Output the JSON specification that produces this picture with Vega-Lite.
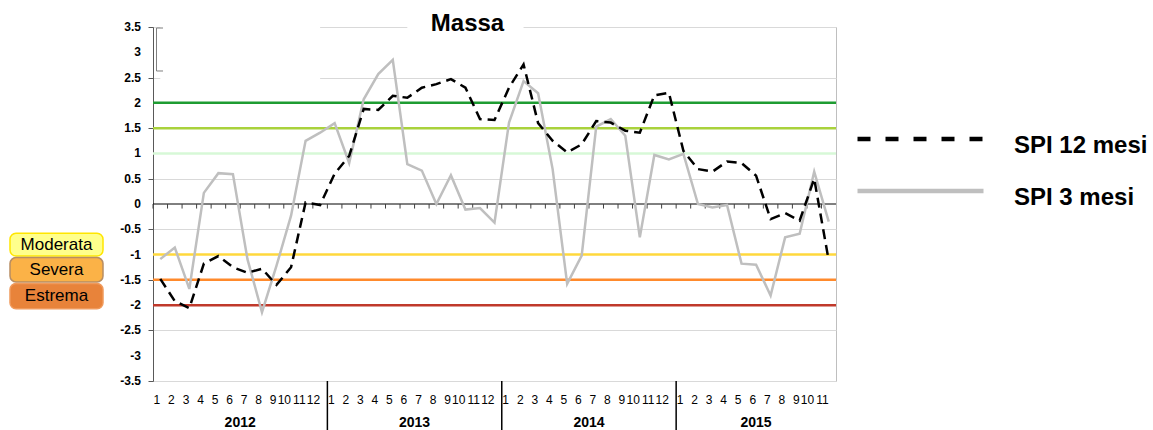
{
  "$schema": "https://vega.github.io/schema/vega-lite/v6.json",
  "padding": {"left": 9, "top": 11, "right": 0, "bottom": 0},
  "spacing": 50,
  "bounds": "flush",
  "config": {
    "font": "Liberation Sans",
    "view": {"stroke": null}
  },
  "resolve": {"scale": {"fill": "independent", "stroke": "independent", "color": "independent"}},
  "hconcat": [
    {
      "width": 93,
      "height": 354,
      "data": {"values": [
        {"classe": "Moderata", "sup": -0.58, "inf": -1.03, "centro": -0.81},
        {"classe": "Severa", "sup": -1.06, "inf": -1.54, "centro": -1.3},
        {"classe": "Estrema", "sup": -1.57, "inf": -2.07, "centro": -1.82}
      ]},
      "layer": [
        {
          "mark": {"type": "rect", "cornerRadius": 6, "strokeWidth": 1.5},
          "encoding": {
            "x": {"datum": 0, "type": "quantitative", "scale": {"domain": [0, 1]}, "axis": null},
            "x2": {"datum": 1},
            "y": {"field": "sup", "type": "quantitative", "scale": {"domain": [-3.5, 3.5], "nice": false, "zero": false}, "axis": null},
            "y2": {"field": "inf"},
            "fill": {"field": "classe", "type": "nominal", "scale": {"domain": ["Moderata", "Severa", "Estrema"], "range": ["#ffff8c", "#fbb247", "#e8833a"]}, "legend": null},
            "stroke": {"field": "classe", "type": "nominal", "scale": {"domain": ["Moderata", "Severa", "Estrema"], "range": ["#ffe600", "#b88d63", "#f09a5c"]}, "legend": null}
          }
        },
        {
          "mark": {"type": "text", "fontSize": 17, "color": "black"},
          "encoding": {
            "x": {"datum": 0.5, "type": "quantitative", "axis": null},
            "y": {"field": "centro", "type": "quantitative", "axis": null},
            "text": {"field": "classe"}
          }
        }
      ]
    },
    {
      "width": 683,
      "height": 354,
      "title": {"text": "Massa", "fontSize": 24, "fontWeight": "bold", "anchor": "middle", "frame": "group", "dx": -27, "offset": -34, "baseline": "alphabetic", "color": "black"},
      "view": {"stroke": "#bfbfbf"},
      "data": {"values": [
        {"periodo": "2012-01", "spi12": -1.48, "spi3": -1.09},
        {"periodo": "2012-02", "spi12": -1.92, "spi3": -0.86},
        {"periodo": "2012-03", "spi12": -2.06, "spi3": -1.68},
        {"periodo": "2012-04", "spi12": -1.18, "spi3": 0.22},
        {"periodo": "2012-05", "spi12": -1.03, "spi3": 0.61},
        {"periodo": "2012-06", "spi12": -1.25, "spi3": 0.59},
        {"periodo": "2012-07", "spi12": -1.36, "spi3": -1.09},
        {"periodo": "2012-08", "spi12": -1.28, "spi3": -2.14},
        {"periodo": "2012-09", "spi12": -1.6, "spi3": -1.22},
        {"periodo": "2012-10", "spi12": -1.25, "spi3": -0.23},
        {"periodo": "2012-11", "spi12": 0.03, "spi3": 1.25},
        {"periodo": "2012-12", "spi12": -0.02, "spi3": 1.41},
        {"periodo": "2013-01", "spi12": 0.6, "spi3": 1.6},
        {"periodo": "2013-02", "spi12": 0.95, "spi3": 0.81},
        {"periodo": "2013-03", "spi12": 1.88, "spi3": 2.07},
        {"periodo": "2013-04", "spi12": 1.86, "spi3": 2.57},
        {"periodo": "2013-05", "spi12": 2.14, "spi3": 2.85},
        {"periodo": "2013-06", "spi12": 2.1, "spi3": 0.79},
        {"periodo": "2013-07", "spi12": 2.3, "spi3": 0.66},
        {"periodo": "2013-08", "spi12": 2.37, "spi3": 0.0},
        {"periodo": "2013-09", "spi12": 2.47, "spi3": 0.57},
        {"periodo": "2013-10", "spi12": 2.3, "spi3": -0.11},
        {"periodo": "2013-11", "spi12": 1.68, "spi3": -0.08},
        {"periodo": "2013-12", "spi12": 1.66, "spi3": -0.37},
        {"periodo": "2014-01", "spi12": 2.3, "spi3": 1.61},
        {"periodo": "2014-02", "spi12": 2.76, "spi3": 2.43},
        {"periodo": "2014-03", "spi12": 1.6, "spi3": 2.19},
        {"periodo": "2014-04", "spi12": 1.25, "spi3": 0.69},
        {"periodo": "2014-05", "spi12": 1.02, "spi3": -1.58},
        {"periodo": "2014-06", "spi12": 1.18, "spi3": -1.02},
        {"periodo": "2014-07", "spi12": 1.64, "spi3": 1.53},
        {"periodo": "2014-08", "spi12": 1.61, "spi3": 1.68},
        {"periodo": "2014-09", "spi12": 1.45, "spi3": 1.35},
        {"periodo": "2014-10", "spi12": 1.41, "spi3": -0.66},
        {"periodo": "2014-11", "spi12": 2.15, "spi3": 0.97},
        {"periodo": "2014-12", "spi12": 2.2, "spi3": 0.88},
        {"periodo": "2015-01", "spi12": 1.05, "spi3": 0.99},
        {"periodo": "2015-02", "spi12": 0.69, "spi3": 0.0},
        {"periodo": "2015-03", "spi12": 0.64, "spi3": -0.07},
        {"periodo": "2015-04", "spi12": 0.84, "spi3": -0.02},
        {"periodo": "2015-05", "spi12": 0.81, "spi3": -1.18},
        {"periodo": "2015-06", "spi12": 0.56, "spi3": -1.2},
        {"periodo": "2015-07", "spi12": -0.3, "spi3": -1.81},
        {"periodo": "2015-08", "spi12": -0.18, "spi3": -0.66},
        {"periodo": "2015-09", "spi12": -0.33, "spi3": -0.59},
        {"periodo": "2015-10", "spi12": 0.5, "spi3": 0.64},
        {"periodo": "2015-11", "spi12": -1.12, "spi3": -0.35}
      ]},
      "layer": [
        {
          "data": {"values": [{}]},
          "mark": {"type": "rect", "fill": "white"},
          "encoding": {
            "x": {"datum": "2012-01"},
            "x2": {"datum": "2012-12"},
            "y": {"datum": 3.62, "type": "quantitative", "title": null,
              "scale": {"domain": [-3.5, 3.5], "nice": false, "zero": false},
              "axis": {
                "values": [-3.5, -3, -2.5, -2, -1.5, -1, -0.5, 0, 0.5, 1, 1.5, 2, 2.5, 3, 3.5],
                "labels": false,
                "grid": true, "gridColor": "#d9d9d9", "gridWidth": 1,
                "domainColor": "#595959", "tickColor": "#595959", "tickSize": 5,
                "title": null
              }
            },
            "y2": {"datum": 2.38}
          }
        },
        {
          "data": {"values": [{}]},
          "mark": {"type": "rect", "fill": "white"},
          "encoding": {
            "x": {"datum": "2013-06"},
            "x2": {"datum": "2014-02"},
            "y": {"datum": 3.62},
            "y2": {"datum": 3.42}
          }
        },
        {
          "data": {"values": [
            {"tacca": -3.5}, {"tacca": -3}, {"tacca": -2.5}, {"tacca": -2}, {"tacca": -1.5},
            {"tacca": -1}, {"tacca": -0.5}, {"tacca": 0}, {"tacca": 0.5}, {"tacca": 1},
            {"tacca": 1.5}, {"tacca": 2}, {"tacca": 2.5}, {"tacca": 3}, {"tacca": 3.5}
          ]},
          "mark": {"type": "text", "fontSize": 12, "fontWeight": "bold", "color": "black", "align": "right", "baseline": "middle", "dx": -12},
          "encoding": {
            "x": {"datum": "2012-01", "bandPosition": 0},
            "y": {"field": "tacca", "type": "quantitative", "title": null},
            "text": {"field": "tacca", "type": "nominal"}
          }
        },
        {
          "data": {"values": [
            {"soglia": 2}, {"soglia": 1.5}, {"soglia": 1},
            {"soglia": -1}, {"soglia": -1.5}, {"soglia": -2}
          ]},
          "mark": {"type": "rule", "strokeWidth": 2.5},
          "encoding": {
            "y": {"field": "soglia", "type": "quantitative", "title": null},
            "stroke": {
              "field": "soglia", "type": "ordinal",
              "scale": {"domain": [2, 1.5, 1, -1, -1.5, -2], "range": ["#1e9c32", "#a9d23c", "#d7f8d7", "#ffd83c", "#ff8a2c", "#c0392b"]},
              "legend": null
            }
          }
        },
        {
          "data": {"values": [{}]},
          "mark": {"type": "rule", "color": "black", "strokeWidth": 1},
          "encoding": {"y": {"datum": 0}}
        },
        {
          "mark": {"type": "rule", "color": "#404040", "strokeWidth": 1},
          "encoding": {
            "x": {"field": "periodo", "type": "nominal", "bandPosition": 0, "title": null},
            "y": {"datum": 0},
            "y2": {"datum": -0.09}
          }
        },
        {
          "mark": {"type": "line", "strokeWidth": 2.5},
          "encoding": {
            "x": {
              "field": "periodo", "type": "nominal", "bandPosition": 0.5, "title": null,
              "scale": {"type": "band", "paddingInner": 0, "paddingOuter": 0},
              "axis": {
                "orient": "bottom", "domain": false, "ticks": false, "tickSize": 0, "grid": false,
                "labelPadding": 13, "labelFontSize": 12, "labelColor": "black", "labelAngle": 0,
                "labelOverlap": false, "labelBound": false, "labelBaseline": "top",
                "labelExpr": "'' + toNumber(slice(datum.value, 5))", "title": null
              }
            },
            "y": {"field": "spi3", "type": "quantitative", "title": null},
            "color": {
              "datum": "SPI 3 mesi",
              "scale": {"domain": ["SPI 12 mesi", "SPI 3 mesi"], "range": ["#000000", "#bfbfbf"]},
              "legend": {
                "orient": "none", "legendX": 702, "legendY": 97, "title": null,
                "symbolType": "stroke", "symbolSize": 15876, "symbolStrokeWidth": 4.5,
                "labelFontSize": 24, "labelFontWeight": "bold", "labelColor": "black",
                "labelOffset": 28, "labelLimit": 400, "clipHeight": 30, "rowPadding": 18, "padding": 0,
                "encode": {
                  "labels": {"update": {"dy": {"value": 7}}},
                  "symbols": {"update": {"strokeDash": {"signal": "datum.value === 'SPI 12 mesi' ? [13, 15] : [1, 0]"}}}
                }
              }
            }
          }
        },
        {
          "mark": {"type": "line", "strokeWidth": 2.5, "strokeDash": [10, 6]},
          "encoding": {
            "x": {"field": "periodo", "type": "nominal", "bandPosition": 0.5, "title": null},
            "y": {"field": "spi12", "type": "quantitative", "title": null},
            "color": {"datum": "SPI 12 mesi"}
          }
        },
        {
          "data": {"values": [{"inizio": "2013-01"}, {"inizio": "2014-01"}, {"inizio": "2015-01"}]},
          "mark": {"type": "rule", "color": "black", "strokeWidth": 1.5},
          "encoding": {
            "x": {"field": "inizio", "type": "nominal", "bandPosition": 0, "title": null},
            "y": {"datum": -3.5},
            "y2": {"datum": -4.5}
          }
        },
        {
          "data": {"values": [{"anno": "2012", "meta": "2012-07"}, {"anno": "2013", "meta": "2013-07"}, {"anno": "2014", "meta": "2014-07"}]},
          "mark": {"type": "text", "fontSize": 14, "fontWeight": "bold", "color": "black"},
          "encoding": {
            "x": {"field": "meta", "type": "nominal", "bandPosition": 0, "title": null},
            "y": {"datum": -4.33},
            "text": {"field": "anno"}
          }
        },
        {
          "data": {"values": [{"anno": "2015", "meta": "2015-06"}]},
          "mark": {"type": "text", "fontSize": 14, "fontWeight": "bold", "color": "black"},
          "encoding": {
            "x": {"field": "meta", "type": "nominal", "bandPosition": 0.5, "title": null},
            "y": {"datum": -4.33},
            "text": {"field": "anno"}
          }
        },
        {
          "data": {"values": [{}]},
          "mark": {"type": "rule", "color": "#7f7f7f", "strokeWidth": 1},
          "encoding": {
            "x": {"datum": "2012-01", "bandPosition": 0.24},
            "y": {"datum": 3.48},
            "y2": {"datum": 2.63}
          }
        },
        {
          "data": {"values": [{}]},
          "mark": {"type": "rule", "color": "#7f7f7f", "strokeWidth": 1},
          "encoding": {
            "x": {"datum": "2012-01", "bandPosition": 0.24},
            "x2": {"datum": "2012-01", "bandPosition": 0.69},
            "y": {"datum": 3.48}
          }
        },
        {
          "data": {"values": [{}]},
          "mark": {"type": "rule", "color": "#7f7f7f", "strokeWidth": 1},
          "encoding": {
            "x": {"datum": "2012-01", "bandPosition": 0.24},
            "x2": {"datum": "2012-01", "bandPosition": 0.69},
            "y": {"datum": 2.63}
          }
        }
      ]
    }
  ]
}
